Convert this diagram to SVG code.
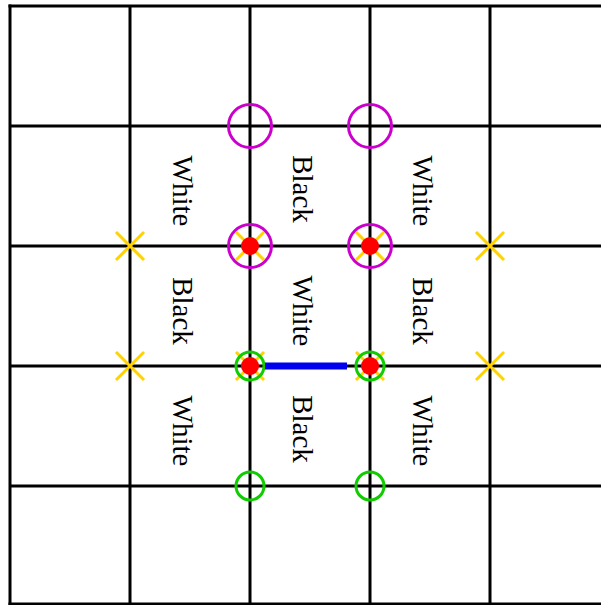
<svg xmlns="http://www.w3.org/2000/svg" width="601" height="605" viewBox="0 0 601 605">
<style>
.g{stroke:#000;stroke-width:3;fill:none}
.x{stroke:#FFD200;stroke-width:3}
.m{stroke:#CC00CC;stroke-width:3;fill:none}
.gr{stroke:#11CC00;stroke-width:3;fill:none}
.d{fill:#FF0000}
.t{font-family:"Liberation Serif","Times New Roman",serif;font-size:29px;fill:#000;text-anchor:middle}
</style>
<defs>
<path id="xm" d="M-14,-14L14,14M-14,14L14,-14"/>
</defs>
<g id="grid" class="g">
<line x1="10" y1="4.5" x2="10" y2="605"/>
<line x1="130" y1="6" x2="130" y2="605"/>
<line x1="250" y1="6" x2="250" y2="605"/>
<line x1="370" y1="6" x2="370" y2="605"/>
<line x1="490" y1="6" x2="490" y2="605"/>
<line x1="8.5" y1="6" x2="601" y2="6"/>
<line x1="10" y1="126" x2="601" y2="126"/>
<line x1="10" y1="246" x2="601" y2="246"/>
<line x1="10" y1="366" x2="601" y2="366"/>
<line x1="10" y1="486" x2="601" y2="486"/>
<line x1="8.5" y1="604" x2="601" y2="604"/>
</g>
<g id="crosses" class="x">
<use href="#xm" x="130" y="246"/>
<use href="#xm" x="250" y="246"/>
<use href="#xm" x="370" y="246"/>
<use href="#xm" x="490" y="246"/>
<use href="#xm" x="130" y="366"/>
<use href="#xm" x="250" y="366"/>
<use href="#xm" x="370" y="366"/>
<use href="#xm" x="490" y="366"/>
</g>
<g id="magenta" class="m">
<circle cx="250" cy="126" r="21.5"/>
<circle cx="370" cy="126" r="21.5"/>
<circle cx="250" cy="246" r="21.5"/>
<circle cx="370" cy="246" r="21.5"/>
</g>
<g id="green" class="gr">
<circle cx="250" cy="366" r="14"/>
<circle cx="370" cy="366" r="14"/>
<circle cx="250" cy="486" r="14"/>
<circle cx="370" cy="486" r="14"/>
</g>
<g id="connectors">
<line x1="265" y1="366" x2="347" y2="366" stroke="#0000EE" stroke-width="7"/>
</g>
<g id="dots" class="d">
<circle cx="250" cy="246" r="9"/>
<circle cx="370" cy="246" r="9"/>
<circle cx="250" cy="366" r="9"/>
<circle cx="370" cy="366" r="9"/>
</g>
<g id="labels" class="t">
<text transform="translate(173,191) rotate(90)">White</text>
<text transform="translate(293,189) rotate(90)">Black</text>
<text transform="translate(413,191) rotate(90)">White</text>
<text transform="translate(173,311) rotate(90)">Black</text>
<text transform="translate(293,311) rotate(90)">White</text>
<text transform="translate(413,311) rotate(90)">Black</text>
<text transform="translate(173,431) rotate(90)">White</text>
<text transform="translate(293,429) rotate(90)">Black</text>
<text transform="translate(413,431) rotate(90)">White</text>
</g>
</svg>
